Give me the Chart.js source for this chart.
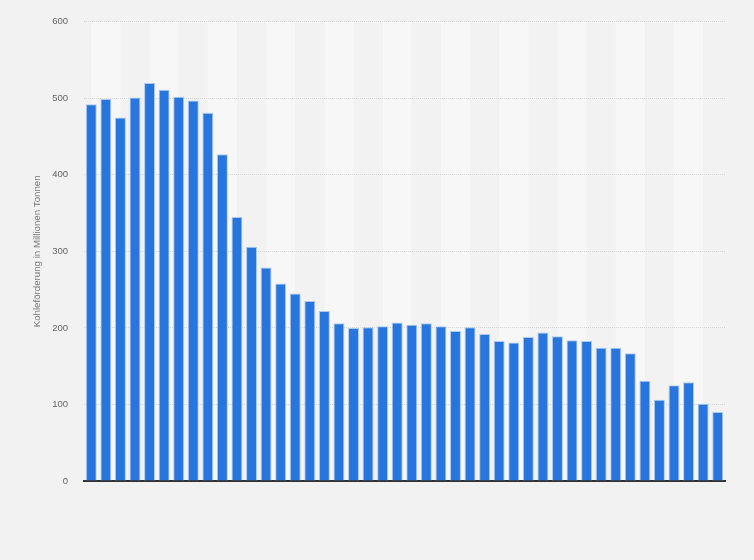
<!DOCTYPE html>
<html>
<head>
<meta charset="utf-8">
<script src="https://cdn.jsdelivr.net/npm/chart.js@4/dist/chart.umd.min.js"></script>
<style>
  html, body { margin: 0; padding: 0; background: #f2f2f2; }
  #wrap { width: 754px; height: 560px; }
</style>
</head>
<body>
<div id="wrap"><canvas id="myChart" width="754" height="560"></canvas></div>
<script>
// Jahre (Achsenbeschriftung im Original ausgeblendet)
const years = [];
for (let y = 1981; y <= 2024; y++) years.push(String(y));

// Kohleförderung in Mio. t
const production = [
  492, 499, 475, 501, 520, 511, 502, 497, 481, 427,
  345, 306, 279, 258, 245, 235, 222, 206, 200, 201,
  202, 207, 204, 206, 202, 196, 201, 192, 183, 181,
  188, 194, 189, 184, 183, 174, 174, 167, 131, 106,
  125, 129, 101, 90
];

const yTicks = [0, 100, 200, 300, 400, 500, 600];

// Hintergrund + helle Streifen (je 2 Kategorien, ab Mitte des Balkens)
const stripes = {
  id: 'stripes',
  beforeDraw(chart) {
    const ctx = chart.ctx;
    const x = chart.scales.x;
    const area = chart.chartArea;
    ctx.save();
    ctx.fillStyle = '#f2f2f2';
    ctx.fillRect(0, 0, chart.width, chart.height);
    ctx.fillStyle = '#f7f7f7';
    for (let k = 0; k < years.length; k += 4) {
      const x0 = x.getPixelForValue(k);
      const x1 = x.getPixelForValue(Math.min(k + 2, years.length - 1));
      ctx.fillRect(x0, area.top, x1 - x0, area.bottom - area.top);
    }
    ctx.restore();
  }
};

new Chart(document.getElementById('myChart'), {
  type: 'bar',
  data: {
    labels: years,
    datasets: [{
      data: production,
      backgroundColor: '#2876dd',
      borderColor: 'rgba(150,190,240,0.8)',
      borderWidth: { top: 1, left: 1, right: 1, bottom: 0 },
      barPercentage: 0.75,
      categoryPercentage: 1.0
    }]
  },
  options: {
    responsive: false,
    animation: false,
    layout: { padding: { top: 20, right: 29, bottom: 79, left: 0 } },
    plugins: {
      legend: { display: false },
      tooltip: { enabled: false }
    },
    scales: {
      x: {
        grid: { display: false },
        ticks: { display: false },
        border: { display: true, color: '#333333', width: 2 },
        afterFit(scale) { scale.height = 0; }
      },
      y: {
        min: 0,
        max: 600,
        afterBuildTicks(scale) { scale.ticks = yTicks.map(v => ({ value: v })); },
        afterFit(scale) { scale.width = 84; },
        grid: {
          color: '#d8d8d8',
          lineWidth: 1,
          drawTicks: false
        },
        border: { display: false, dash: [1, 1] },
        ticks: {
          padding: 16,
          color: '#666666',
          font: { family: '"Liberation Sans", Arial, sans-serif', size: 9.5 }
        },
        title: {
          display: true,
          text: 'Kohleförderung in Millionen Tonnen',
          color: '#777777',
          padding: { top: 32, bottom: 0 },
          font: { family: '"Liberation Sans", Arial, sans-serif', size: 9.7 }
        }
      }
    }
  },
  plugins: [stripes]
});
</script>
</body>
</html>
